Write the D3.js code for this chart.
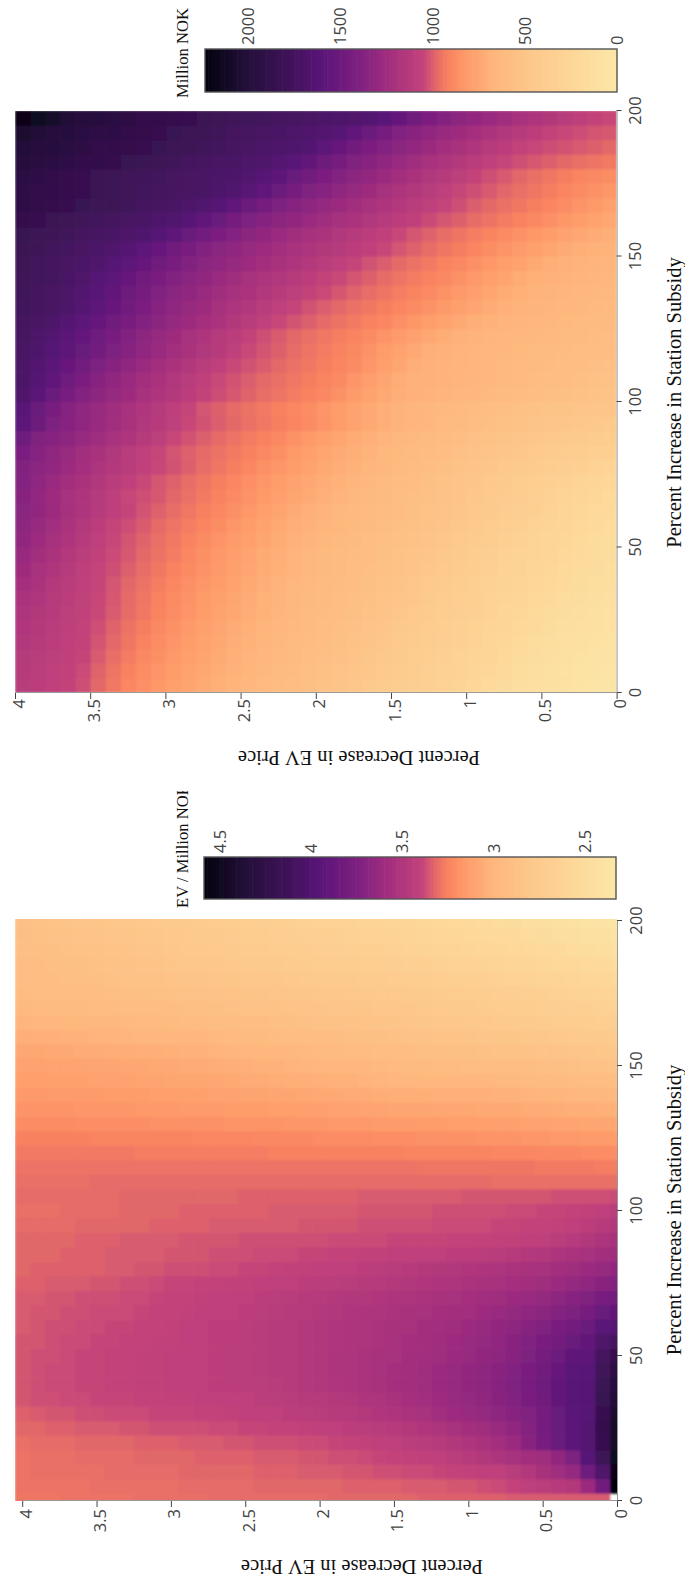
<!DOCTYPE html>
<html>
<head>
<meta charset="utf-8">
<script src="https://cdnjs.cloudflare.com/ajax/libs/d3/7.8.5/d3.min.js"></script>
<style>
  body { margin: 0; background: #fff; }
  svg { display: block; }
</style>
</head>
<body>
<svg id="chart"></svg>
<script>
// Set dimensions (the whole figure is laid out sideways, then turned a quarter)
const width = 685;
const height = 1581;

const subsidyTicks = [0, 50, 100, 150, 200];
const priceTicks = [0, 0.5, 1, 1.5, 2, 2.5, 3, 3.5, 4];
const spendTicks = [0, 500, 1000, 1500, 2000];
const ratioTicks = [2.5, 3, 3.5, 4, 4.5];

// Colour ramp
const rampStops = [0, 0.1, 0.2, 0.3, 0.37, 0.41, 0.44, 0.47, 0.55, 0.63, 0.72, 0.8, 0.9, 1];
const rampColors = ["#fbe7a9", "#fdd899", "#fdc98c", "#feb67c", "#fe9a69", "#f98260", "#e46a68",
    "#c4447a", "#a52f7e", "#7d2080", "#591578", "#3f1258", "#23103a", "#04020f"];

// Million NOK, rows go up in station subsidy, columns go up in EV price cut
const spendRows = [
[37,52,67,82,97,112,127,160,200,240,280,314,341,369,396,423,451,478,505,530,555,580,604,628,653,678,703,736,769,802,835,868,900,943,986,1029,1060,1080,1100,1120],
[46,62,78,94,110,125,156,194,232,270,307,333,360,388,415,443,470,497,522,546,570,595,619,644,668,692,722,753,785,816,847,878,912,954,996,1038,1066,1088,1110,1130],
[58,74,90,106,122,145,181,217,253,289,319,347,375,403,431,458,486,512,536,560,584,608,632,656,680,707,738,769,801,832,863,894,933,972,1010,1049,1073,1095,1118,1140],
[68,84,100,116,134,169,204,238,273,310,338,366,394,422,450,479,507,530,554,577,601,625,648,672,695,720,752,784,816,847,879,915,951,987,1022,1058,1080,1104,1130,1155],
[82,97,112,126,155,188,221,254,288,319,348,376,405,433,462,490,514,538,561,584,607,631,654,677,702,733,765,796,828,860,891,927,961,995,1029,1064,1090,1114,1142,1168],
[96,110,124,146,178,210,242,274,308,337,366,395,424,453,481,507,530,553,576,599,622,645,668,692,723,754,785,816,847,878,911,944,977,1010,1043,1066,1095,1125,1155,1183],
[111,123,142,170,199,228,257,286,317,347,378,408,438,468,497,520,542,564,586,608,630,652,675,700,731,762,793,824,855,885,917,949,981,1013,1045,1072,1105,1135,1170,1200],
[122,135,163,191,220,248,277,305,330,361,391,421,451,481,509,531,553,575,597,619,641,663,685,715,746,777,808,838,869,900,930,960,990,1020,1050,1080,1115,1150,1195,1230],
[135,160,186,212,239,265,292,320,350,381,412,443,473,504,526,548,570,592,613,635,657,680,702,733,764,795,825,856,887,917,945,973,1002,1030,1055,1090,1130,1170,1220,1262],
[146,172,198,225,252,279,305,335,366,397,428,459,490,511,532,553,574,596,617,638,660,681,709,740,771,803,834,865,898,934,960,986,1013,1039,1070,1110,1150,1195,1245,1292],
[155,181,207,233,260,290,322,354,385,417,449,481,507,528,549,570,591,612,632,653,674,698,729,760,791,823,854,885,915,942,968,995,1021,1047,1085,1127,1175,1222,1270,1318],
[170,197,224,251,285,316,347,378,409,440,471,503,525,546,567,588,609,630,651,672,693,715,747,779,811,842,874,905,931,956,982,1008,1034,1055,1100,1150,1198,1246,1294,1340],
[188,212,237,262,308,340,369,399,430,460,491,512,533,555,576,597,619,640,662,683,707,738,770,802,834,866,897,923,948,973,998,1023,1051,1090,1130,1185,1225,1270,1315,1355],
[210,235,260,288,325,355,385,415,445,475,505,527,549,570,592,614,636,658,680,705,736,766,797,827,858,888,915,940,965,990,1015,1030,1047,1090,1130,1175,1220,1265,1310,1365],
[235,258,290,323,350,377,404,431,458,485,510,532,555,578,601,624,647,670,693,723,752,781,811,840,870,900,925,949,973,998,1020,1043,1080,1115,1160,1200,1240,1280,1330,1380],
[290,320,345,368,391,414,437,460,483,510,533,556,579,602,625,648,671,694,723,751,780,808,837,866,900,925,950,975,1000,1025,1045,1075,1115,1150,1190,1230,1270,1310,1350,1385],
[340,361,382,403,424,445,466,487,506,528,550,573,595,617,640,662,685,708,736,768,800,831,863,895,920,940,960,981,1001,1022,1048,1082,1123,1164,1205,1245,1286,1327,1368,1420],
[400,415,431,447,462,478,494,510,530,552,573,595,616,638,659,681,705,735,766,798,830,862,893,915,936,958,980,1002,1024,1045,1095,1135,1175,1215,1255,1295,1335,1368,1400,1490],
[450,461,472,483,494,508,528,548,568,588,608,628,648,668,688,712,746,780,814,848,882,905,925,945,965,985,1005,1025,1045,1085,1125,1165,1205,1245,1285,1325,1365,1410,1500,1590],
[490,494,498,502,510,528,546,564,582,600,618,636,654,672,690,712,745,778,811,845,878,900,920,940,960,980,1000,1020,1050,1090,1130,1170,1210,1250,1290,1330,1370,1430,1510,1610],
[510,525,540,555,570,585,600,615,630,645,660,675,690,695,712,748,785,822,860,895,915,935,955,975,995,1015,1035,1065,1105,1145,1180,1220,1260,1300,1340,1380,1430,1510,1600,1680],
[530,545,560,575,590,605,620,635,650,665,675,685,692,698,720,762,804,846,888,910,929,948,967,986,1005,1024,1044,1080,1120,1160,1200,1240,1280,1320,1365,1420,1490,1565,1640,1700],
[552,565,578,590,603,615,628,640,655,668,680,690,695,715,758,800,843,885,905,925,945,965,985,1006,1026,1043,1080,1120,1160,1200,1240,1280,1325,1365,1410,1470,1530,1595,1655,1705],
[572,583,594,605,616,627,638,649,660,671,682,692,705,743,780,817,855,892,912,934,956,978,1000,1022,1043,1085,1125,1165,1205,1245,1285,1325,1370,1415,1470,1525,1580,1635,1685,1725],
[592,602,612,622,632,642,652,662,672,685,697,722,755,788,820,853,885,908,928,948,968,988,1008,1030,1060,1100,1140,1180,1220,1260,1300,1340,1385,1435,1490,1545,1600,1650,1695,1735],
[607,617,628,638,649,660,670,681,692,712,745,776,807,838,869,897,918,938,960,981,1002,1023,1045,1085,1120,1155,1195,1230,1270,1305,1345,1385,1430,1480,1535,1590,1640,1685,1725,1750],
[626,637,648,658,668,679,690,703,735,765,795,825,855,885,905,925,945,965,985,1005,1025,1050,1085,1120,1155,1190,1225,1260,1295,1330,1370,1420,1475,1530,1585,1640,1690,1730,1750,1765],
[636,646,657,668,678,689,705,735,766,797,828,858,889,908,930,952,974,996,1018,1040,1062,1095,1127,1160,1192,1225,1257,1290,1322,1355,1395,1445,1500,1555,1610,1655,1695,1730,1755,1775],
[655,665,675,685,695,705,735,770,800,830,860,890,912,935,957,979,1000,1022,1044,1065,1098,1130,1160,1190,1220,1255,1285,1318,1350,1385,1425,1475,1530,1585,1635,1680,1715,1745,1765,1785],
[670,678,687,695,715,745,775,805,835,865,895,915,938,960,983,1005,1027,1055,1085,1115,1145,1175,1205,1235,1265,1295,1325,1355,1390,1430,1480,1535,1590,1635,1675,1705,1730,1750,1770,1795],
[685,695,712,740,768,795,822,850,877,905,928,950,975,998,1020,1045,1075,1100,1130,1155,1183,1210,1240,1268,1297,1325,1355,1390,1430,1480,1535,1590,1640,1675,1700,1725,1745,1770,1795,1830],
[708,730,757,782,808,833,860,885,908,930,952,975,998,1020,1045,1075,1105,1135,1165,1195,1225,1255,1285,1315,1345,1380,1420,1470,1525,1580,1635,1670,1695,1715,1735,1755,1775,1795,1815,1840],
[755,785,812,840,868,895,915,935,958,978,1000,1020,1040,1075,1105,1135,1165,1195,1225,1255,1285,1315,1345,1375,1410,1460,1515,1570,1625,1665,1690,1710,1730,1750,1770,1790,1810,1830,1850,1875],
[795,825,850,878,905,925,945,965,985,1005,1030,1055,1085,1115,1150,1180,1210,1245,1275,1305,1340,1370,1405,1455,1510,1570,1625,1665,1695,1715,1735,1755,1775,1795,1815,1835,1850,1870,1890,1915],
[837,860,883,907,928,950,970,990,1012,1032,1048,1085,1120,1155,1190,1225,1260,1295,1330,1365,1400,1450,1505,1565,1620,1665,1690,1710,1725,1740,1755,1772,1790,1808,1825,1845,1865,1885,1910,1935],
[875,890,905,927,948,970,990,1012,1032,1057,1095,1130,1165,1200,1240,1275,1310,1345,1380,1420,1470,1525,1580,1630,1665,1685,1700,1712,1725,1740,1760,1775,1790,1810,1830,1850,1870,1895,1920,1955],
[940,955,970,985,1000,1015,1030,1050,1080,1115,1150,1185,1220,1255,1290,1325,1365,1400,1450,1500,1555,1610,1650,1675,1695,1710,1725,1740,1755,1775,1800,1820,1840,1860,1885,1905,1925,1945,1965,1990],
[985,1000,1012,1025,1035,1047,1065,1100,1135,1170,1205,1240,1275,1310,1345,1380,1420,1475,1530,1590,1655,1672,1690,1707,1725,1742,1760,1777,1795,1815,1835,1855,1875,1890,1910,1930,1950,1970,1990,2010],
[1015,1022,1035,1045,1065,1098,1130,1162,1195,1228,1260,1293,1325,1360,1395,1450,1510,1570,1630,1660,1677,1692,1710,1725,1740,1757,1775,1795,1815,1835,1855,1875,1895,1915,1930,1950,1970,1990,2030,2080],
[1045,1060,1090,1120,1155,1185,1215,1250,1280,1312,1345,1378,1420,1480,1545,1610,1660,1675,1690,1705,1720,1735,1750,1765,1780,1792,1810,1830,1850,1870,1890,1910,1930,1950,1970,1990,2030,2090,2150,2215]
];

// EV / Million NOK, same layout, one cell more each way; no value at the 0/0 corner
const ratioRows = [
[null,3.35,3.35,3.35,3.35,3.35,3.35,3.35,3.34,3.34,3.34,3.34,3.34,3.34,3.33,3.33,3.33,3.33,3.33,3.33,3.32,3.32,3.32,3.32,3.32,3.32,3.32,3.32,3.31,3.31,3.31,3.31,3.31,3.30,3.30,3.30,3.30,3.30,3.29,3.29,3.29],
[4.59,3.82,3.62,3.50,3.47,3.45,3.43,3.40,3.38,3.37,3.36,3.36,3.35,3.35,3.35,3.34,3.34,3.34,3.34,3.33,3.33,3.33,3.33,3.33,3.33,3.32,3.32,3.32,3.32,3.32,3.31,3.31,3.31,3.31,3.31,3.31,3.30,3.30,3.30,3.30,3.30],
[4.55,4.03,3.84,3.65,3.60,3.55,3.50,3.46,3.43,3.42,3.41,3.40,3.39,3.38,3.38,3.37,3.37,3.36,3.36,3.35,3.35,3.35,3.34,3.34,3.34,3.33,3.33,3.33,3.33,3.33,3.32,3.32,3.32,3.32,3.32,3.31,3.31,3.31,3.31,3.31,3.30],
[4.50,4.15,3.98,3.76,3.66,3.60,3.58,3.56,3.53,3.50,3.47,3.45,3.43,3.42,3.41,3.40,3.39,3.38,3.37,3.37,3.36,3.36,3.35,3.35,3.35,3.34,3.34,3.34,3.34,3.33,3.33,3.33,3.33,3.32,3.32,3.32,3.32,3.31,3.31,3.31,3.30],
[4.47,4.20,3.99,3.94,3.86,3.78,3.70,3.62,3.58,3.55,3.52,3.50,3.48,3.46,3.45,3.43,3.42,3.41,3.40,3.39,3.38,3.38,3.37,3.37,3.37,3.36,3.36,3.35,3.35,3.35,3.34,3.34,3.34,3.33,3.33,3.33,3.33,3.32,3.32,3.32,3.31],
[4.45,4.22,3.99,3.94,3.87,3.79,3.72,3.67,3.63,3.60,3.58,3.56,3.53,3.51,3.49,3.47,3.46,3.45,3.44,3.43,3.42,3.41,3.40,3.40,3.39,3.39,3.38,3.38,3.37,3.37,3.37,3.37,3.36,3.36,3.35,3.35,3.35,3.34,3.34,3.33,3.33],
[4.42,4.20,3.98,3.95,3.87,3.79,3.74,3.71,3.68,3.65,3.63,3.61,3.59,3.56,3.54,3.52,3.51,3.49,3.48,3.47,3.46,3.45,3.44,3.43,3.42,3.42,3.41,3.40,3.40,3.39,3.39,3.39,3.38,3.38,3.38,3.37,3.37,3.36,3.36,3.35,3.34],
[4.38,4.19,3.98,3.96,3.90,3.82,3.77,3.73,3.70,3.67,3.65,3.63,3.61,3.59,3.57,3.55,3.53,3.52,3.50,3.49,3.48,3.47,3.46,3.45,3.44,3.43,3.43,3.42,3.42,3.41,3.41,3.40,3.40,3.39,3.39,3.39,3.38,3.38,3.37,3.37,3.36],
[4.33,4.17,3.98,3.96,3.90,3.84,3.78,3.74,3.71,3.68,3.66,3.64,3.62,3.60,3.58,3.57,3.55,3.54,3.52,3.51,3.50,3.49,3.47,3.46,3.45,3.45,3.44,3.44,3.43,3.42,3.42,3.41,3.41,3.40,3.40,3.39,3.39,3.38,3.38,3.37,3.36],
[4.27,4.14,3.96,3.95,3.88,3.82,3.77,3.73,3.70,3.68,3.66,3.64,3.62,3.60,3.58,3.57,3.56,3.54,3.53,3.52,3.50,3.49,3.48,3.47,3.46,3.45,3.45,3.44,3.43,3.43,3.42,3.41,3.41,3.40,3.40,3.39,3.39,3.38,3.38,3.37,3.36],
[4.20,4.10,3.93,3.92,3.85,3.80,3.75,3.71,3.68,3.66,3.64,3.62,3.60,3.59,3.58,3.56,3.55,3.54,3.53,3.52,3.50,3.49,3.48,3.47,3.46,3.45,3.45,3.44,3.43,3.43,3.42,3.41,3.41,3.40,3.40,3.39,3.39,3.38,3.37,3.37,3.36],
[4.10,4.03,3.90,3.86,3.81,3.77,3.73,3.70,3.67,3.65,3.63,3.61,3.60,3.58,3.57,3.56,3.54,3.53,3.52,3.51,3.50,3.49,3.48,3.47,3.46,3.45,3.44,3.44,3.43,3.42,3.41,3.41,3.40,3.40,3.39,3.39,3.38,3.38,3.37,3.36,3.36],
[3.98,3.95,3.86,3.81,3.77,3.74,3.71,3.68,3.66,3.64,3.62,3.60,3.59,3.58,3.56,3.55,3.54,3.53,3.52,3.51,3.50,3.49,3.48,3.47,3.46,3.45,3.44,3.44,3.43,3.42,3.41,3.40,3.40,3.39,3.39,3.38,3.38,3.37,3.37,3.36,3.35],
[3.90,3.87,3.79,3.75,3.72,3.69,3.67,3.65,3.63,3.61,3.59,3.58,3.57,3.56,3.55,3.54,3.53,3.52,3.51,3.50,3.49,3.48,3.47,3.46,3.45,3.44,3.43,3.43,3.42,3.41,3.40,3.40,3.39,3.38,3.38,3.38,3.37,3.37,3.36,3.36,3.35],
[3.80,3.78,3.74,3.71,3.68,3.65,3.63,3.62,3.60,3.59,3.57,3.56,3.55,3.54,3.53,3.52,3.51,3.50,3.50,3.49,3.48,3.47,3.46,3.45,3.44,3.43,3.43,3.42,3.41,3.40,3.40,3.39,3.38,3.38,3.37,3.37,3.37,3.36,3.36,3.35,3.35],
[3.72,3.70,3.67,3.65,3.62,3.60,3.58,3.57,3.56,3.55,3.54,3.53,3.52,3.51,3.50,3.49,3.48,3.47,3.46,3.45,3.45,3.44,3.43,3.43,3.42,3.41,3.41,3.40,3.40,3.39,3.39,3.38,3.37,3.37,3.36,3.36,3.35,3.35,3.35,3.34,3.34],
[3.66,3.64,3.62,3.60,3.58,3.56,3.55,3.54,3.53,3.52,3.51,3.50,3.50,3.49,3.47,3.46,3.45,3.44,3.43,3.42,3.42,3.41,3.41,3.40,3.39,3.39,3.38,3.38,3.37,3.37,3.37,3.36,3.36,3.35,3.35,3.34,3.34,3.34,3.34,3.34,3.33],
[3.60,3.58,3.56,3.54,3.52,3.50,3.49,3.47,3.46,3.45,3.44,3.44,3.43,3.43,3.42,3.42,3.41,3.41,3.40,3.40,3.39,3.39,3.38,3.38,3.38,3.37,3.37,3.37,3.36,3.36,3.36,3.35,3.35,3.35,3.35,3.34,3.34,3.34,3.33,3.33,3.33],
[3.55,3.53,3.50,3.47,3.45,3.43,3.42,3.41,3.41,3.40,3.40,3.40,3.39,3.39,3.39,3.39,3.38,3.38,3.38,3.38,3.37,3.37,3.37,3.37,3.37,3.37,3.36,3.36,3.36,3.36,3.35,3.35,3.35,3.35,3.34,3.34,3.34,3.33,3.33,3.33,3.33],
[3.50,3.47,3.44,3.42,3.41,3.40,3.40,3.39,3.39,3.38,3.38,3.38,3.38,3.37,3.37,3.37,3.37,3.37,3.36,3.36,3.36,3.36,3.35,3.35,3.35,3.35,3.35,3.35,3.34,3.34,3.34,3.34,3.33,3.33,3.33,3.33,3.33,3.32,3.32,3.32,3.32],
[3.45,3.42,3.41,3.40,3.39,3.39,3.38,3.38,3.37,3.37,3.37,3.37,3.37,3.36,3.36,3.36,3.36,3.36,3.35,3.35,3.35,3.35,3.35,3.35,3.34,3.34,3.34,3.34,3.34,3.34,3.33,3.33,3.33,3.33,3.32,3.32,3.32,3.32,3.31,3.31,3.31],
[3.38,3.37,3.37,3.37,3.37,3.36,3.36,3.36,3.36,3.36,3.36,3.35,3.35,3.35,3.35,3.35,3.35,3.35,3.34,3.34,3.34,3.34,3.34,3.34,3.34,3.34,3.33,3.33,3.33,3.33,3.33,3.33,3.33,3.33,3.32,3.32,3.32,3.32,3.32,3.32,3.32],
[3.31,3.31,3.31,3.31,3.31,3.31,3.31,3.31,3.31,3.32,3.32,3.32,3.32,3.32,3.32,3.32,3.32,3.32,3.32,3.32,3.32,3.32,3.32,3.32,3.32,3.32,3.32,3.32,3.32,3.32,3.32,3.32,3.32,3.32,3.32,3.32,3.31,3.31,3.31,3.31,3.31],
[3.27,3.27,3.28,3.28,3.28,3.28,3.29,3.29,3.29,3.29,3.29,3.29,3.29,3.29,3.30,3.30,3.30,3.30,3.30,3.30,3.30,3.30,3.30,3.30,3.30,3.30,3.30,3.30,3.30,3.30,3.30,3.30,3.30,3.30,3.30,3.30,3.30,3.30,3.30,3.30,3.30],
[3.21,3.22,3.22,3.23,3.23,3.23,3.24,3.24,3.24,3.25,3.25,3.25,3.25,3.25,3.25,3.26,3.26,3.26,3.26,3.26,3.26,3.26,3.26,3.26,3.27,3.27,3.27,3.27,3.27,3.27,3.27,3.27,3.27,3.28,3.28,3.28,3.28,3.28,3.28,3.28,3.28],
[3.15,3.16,3.16,3.17,3.17,3.18,3.18,3.19,3.19,3.19,3.20,3.20,3.20,3.20,3.21,3.21,3.21,3.22,3.22,3.22,3.22,3.23,3.23,3.23,3.23,3.24,3.24,3.24,3.24,3.25,3.25,3.25,3.25,3.25,3.25,3.25,3.26,3.26,3.26,3.26,3.26],
[3.09,3.10,3.10,3.11,3.11,3.12,3.12,3.13,3.13,3.14,3.14,3.14,3.15,3.15,3.16,3.16,3.16,3.17,3.17,3.17,3.18,3.18,3.18,3.19,3.19,3.19,3.19,3.20,3.20,3.20,3.20,3.20,3.21,3.21,3.21,3.21,3.21,3.22,3.22,3.22,3.22],
[3.03,3.04,3.05,3.05,3.06,3.07,3.07,3.08,3.08,3.08,3.09,3.09,3.09,3.10,3.10,3.10,3.11,3.11,3.12,3.12,3.13,3.13,3.14,3.14,3.15,3.15,3.15,3.16,3.16,3.16,3.17,3.17,3.17,3.18,3.18,3.18,3.18,3.19,3.19,3.19,3.19],
[2.97,2.98,2.99,3.00,3.01,3.01,3.02,3.03,3.03,3.04,3.04,3.04,3.04,3.05,3.05,3.05,3.06,3.07,3.07,3.08,3.08,3.09,3.10,3.10,3.11,3.11,3.12,3.12,3.13,3.13,3.14,3.14,3.15,3.15,3.15,3.16,3.16,3.16,3.16,3.17,3.17],
[2.91,2.92,2.93,2.94,2.95,2.95,2.96,2.97,2.97,2.98,2.98,2.98,2.99,2.99,3.00,3.00,3.01,3.02,3.03,3.03,3.04,3.05,3.05,3.06,3.07,3.07,3.08,3.09,3.10,3.10,3.10,3.11,3.11,3.12,3.12,3.12,3.13,3.13,3.13,3.14,3.14],
[2.85,2.86,2.87,2.88,2.89,2.90,2.91,2.92,2.92,2.93,2.93,2.94,2.94,2.95,2.95,2.96,2.97,2.98,2.98,2.99,3.00,3.01,3.02,3.03,3.03,3.04,3.05,3.06,3.07,3.07,3.08,3.08,3.09,3.09,3.10,3.10,3.11,3.11,3.11,3.12,3.12],
[2.80,2.81,2.82,2.83,2.84,2.85,2.86,2.87,2.87,2.88,2.89,2.89,2.90,2.90,2.91,2.92,2.93,2.94,2.94,2.95,2.96,2.97,2.98,2.98,2.99,3.00,3.01,3.02,3.03,3.03,3.04,3.05,3.05,3.06,3.06,3.07,3.07,3.08,3.08,3.09,3.09],
[2.75,2.76,2.77,2.78,2.79,2.80,2.81,2.82,2.82,2.83,2.84,2.85,2.85,2.86,2.87,2.88,2.89,2.89,2.90,2.91,2.92,2.92,2.93,2.94,2.95,2.95,2.96,2.97,2.98,2.98,2.99,3.00,3.00,3.01,3.02,3.02,3.03,3.03,3.04,3.04,3.05],
[2.70,2.71,2.72,2.73,2.74,2.75,2.76,2.77,2.78,2.79,2.79,2.80,2.81,2.82,2.83,2.84,2.84,2.85,2.86,2.87,2.87,2.88,2.89,2.90,2.91,2.91,2.92,2.93,2.94,2.94,2.95,2.96,2.96,2.97,2.98,2.98,2.99,2.99,3.00,3.00,3.01],
[2.65,2.66,2.67,2.68,2.70,2.71,2.72,2.73,2.74,2.75,2.76,2.77,2.78,2.79,2.80,2.80,2.81,2.82,2.82,2.83,2.84,2.85,2.85,2.86,2.87,2.87,2.88,2.89,2.90,2.90,2.91,2.92,2.92,2.93,2.94,2.94,2.95,2.95,2.96,2.96,2.97],
[2.60,2.62,2.63,2.65,2.66,2.67,2.69,2.70,2.71,2.72,2.73,2.74,2.75,2.76,2.77,2.78,2.78,2.79,2.79,2.80,2.81,2.82,2.82,2.83,2.84,2.84,2.85,2.86,2.87,2.87,2.88,2.88,2.89,2.90,2.90,2.91,2.92,2.92,2.93,2.93,2.94],
[2.55,2.57,2.58,2.60,2.61,2.62,2.64,2.65,2.66,2.67,2.68,2.69,2.71,2.72,2.73,2.74,2.75,2.75,2.76,2.77,2.78,2.78,2.79,2.80,2.80,2.81,2.82,2.83,2.84,2.84,2.85,2.86,2.87,2.87,2.88,2.89,2.90,2.90,2.91,2.92,2.93],
[2.50,2.52,2.53,2.55,2.56,2.57,2.59,2.60,2.61,2.63,2.64,2.65,2.66,2.68,2.69,2.70,2.71,2.71,2.72,2.73,2.74,2.75,2.75,2.76,2.77,2.78,2.79,2.80,2.81,2.81,2.82,2.84,2.85,2.86,2.87,2.88,2.89,2.89,2.90,2.91,2.92],
[2.45,2.47,2.48,2.50,2.52,2.53,2.55,2.56,2.57,2.58,2.59,2.61,2.62,2.63,2.65,2.66,2.67,2.68,2.69,2.70,2.71,2.72,2.73,2.74,2.75,2.75,2.76,2.78,2.79,2.79,2.80,2.82,2.83,2.84,2.85,2.86,2.87,2.88,2.89,2.90,2.90],
[2.41,2.43,2.44,2.46,2.47,2.49,2.50,2.52,2.53,2.54,2.56,2.57,2.58,2.60,2.61,2.63,2.64,2.65,2.66,2.67,2.68,2.69,2.70,2.71,2.72,2.73,2.75,2.76,2.77,2.78,2.79,2.80,2.81,2.82,2.83,2.84,2.85,2.86,2.87,2.88,2.89],
[2.37,2.39,2.41,2.42,2.44,2.46,2.47,2.49,2.50,2.51,2.53,2.54,2.56,2.57,2.59,2.60,2.61,2.62,2.63,2.64,2.65,2.66,2.67,2.69,2.70,2.71,2.72,2.74,2.75,2.76,2.77,2.78,2.79,2.80,2.81,2.82,2.83,2.84,2.85,2.87,2.88]
];

const svg = d3.select("#chart")
    .attr("width", width)
    .attr("height", height)
    .attr("viewBox", `0 0 ${width} ${height}`);

// the source image is soft, so the cells get a slight blur
svg.append("defs").append("filter")
    .attr("id", "soft")
    .attr("x", "-2%").attr("y", "-2%").attr("width", "104%").attr("height", "104%")
  .append("feGaussianBlur")
    .attr("stdDeviation", 0.8);

const root = svg.append("g")
    .attr("transform", `translate(0,${height}) rotate(-90)`);

const ramp = d3.scaleLinear().domain(rampStops).range(rampColors).clamp(true);

function drawPanel(o) {
    const g = root.append("g");

    const x = d3.scaleLinear().domain([0, 200]).range(o.xRange);
    const y = d3.scaleLinear().domain([0, 4]).range(o.yRange);
    const t = d3.scaleLinear().domain(o.valueDomain).range([0, 1]);

    g.append("clipPath").attr("id", o.id + "-clip")
      .append("rect")
        .attr("x", o.xRange[0])
        .attr("y", o.clipY)
        .attr("width", o.clipX - o.xRange[0])
        .attr("height", o.yRange[0] - o.clipY);

    // heat cells, a little oversized so no white shows between them
    const cells = o.rows.flatMap((row, j) => row.map((v, i) => ({ j, i, v }))).filter(d => d.v !== null);
    const stepS = 5, stepP = 0.1;
    g.append("g")
        .attr("clip-path", `url(#${o.id}-clip)`)
      .append("g")
        .attr("filter", "url(#soft)")
      .selectAll("rect")
      .data(cells)
      .join("rect")
        .attr("x", d => x(d.j * stepS - o.centered * stepS / 2))
        .attr("width", x(stepS) - x(0) + 0.7)
        .attr("y", d => y((d.i + 1) * stepP - o.centered * stepP / 2))
        .attr("height", y(0) - y(stepP) + 0.7)
        .attr("fill", d => ramp(t(d.v)));

    // axes
    const xAxis = d3.axisBottom(x).tickValues(subsidyTicks).tickSize(5).tickSizeOuter(0).tickPadding(8);
    const yAxis = d3.axisLeft(y).tickValues(priceTicks).tickSize(6).tickSizeOuter(0).tickPadding(o.yPad)
        .tickFormat(d3.format("~g"));
    const gx = g.append("g").attr("transform", `translate(0,${o.yRange[0]})`).call(xAxis);
    const gy = g.append("g").attr("transform", `translate(${o.xRange[0]},0)`).call(yAxis);
    gy.selectAll("text").attr("dy", 9);
    [gx, gy].forEach(a => {
        a.selectAll("text").style("font", "16.5px 'Open Sans'").attr("fill", "#444");
        a.selectAll("line").attr("stroke", "#444");
        a.select(".domain").attr("stroke", "#999");
    });

    g.append("text")
        .attr("x", o.xTitleX).attr("y", 681)
        .attr("text-anchor", "middle")
        .style("font", "20.5px 'Liberation Serif'")
        .attr("fill", "#111")
        .text("Percent Increase in Station Subsidy");

    g.append("text")
        .attr("transform", `translate(${o.yTitleX},${o.yTitleY}) rotate(-90)`)
        .attr("text-anchor", "middle")
        .style("font", "20.5px 'Liberation Serif'")
        .attr("fill", "#111")
        .text("Percent Decrease in EV Price");

    // colour bar
    const bar = d3.scaleLinear().domain(o.valueDomain).range(o.barYRange);
    const barStep = (o.valueDomain[1] - o.valueDomain[0]) / 128;
    const barSteps = d3.range(0, 128).map(k => o.valueDomain[0] + barStep * k);
    g.append("g").selectAll("rect")
      .data(barSteps)
      .join("rect")
        .attr("x", o.barX)
        .attr("width", o.barW)
        .attr("y", d => bar(d + barStep))
        .attr("height", d => bar(d) - bar(d + barStep) + 0.6)
        .attr("fill", d => ramp(t(d + barStep / 2)));
    g.append("rect")
        .attr("x", o.barX).attr("y", o.barYRange[1])
        .attr("width", o.barW).attr("height", o.barYRange[0] - o.barYRange[1])
        .attr("fill", "none").attr("stroke", "#555").attr("stroke-width", 1.4);

    const barAxis = d3.axisRight(bar).tickValues(o.barTicks).tickSize(0).tickPadding(4).tickFormat(d3.format("~g"));
    const gb = g.append("g").attr("transform", `translate(${o.barX + o.barW},0)`).call(barAxis);
    gb.select(".domain").remove();
    gb.selectAll("text").style("font", "16.5px 'Open Sans'").attr("fill", "#444");

    const barTitle = g.append("text")
        .attr("x", o.barTitleX).attr("y", 187.5)
        .style("font", "16.6px 'Liberation Serif'")
        .attr("fill", "#111")
        .text(o.barTitle);
    if (o.barTitleClip) {
        g.append("clipPath").attr("id", o.id + "-title-clip")
          .append("rect").attr("x", o.barTitleX - 2).attr("y", 160)
            .attr("width", o.barTitleClip - o.barTitleX + 2).attr("height", 40);
        barTitle.attr("clip-path", `url(#${o.id}-title-clip)`);
    }
}

drawPanel({
    id: "spend", rows: spendRows, centered: 0,
    xRange: [888, 1470], yRange: [616.6, 15], clipX: 1470, clipY: 15, yPad: 0,
    valueDomain: [0, 2236],
    xTitleX: 1178.5, yTitleX: 830, yTitleY: 359,
    barX: 1489, barW: 43, barYRange: [617, 205], barTicks: spendTicks,
    barTitle: "Million NOK", barTitleX: 1483
});

drawPanel({
    id: "ratio", rows: ratioRows, centered: 1,
    xRange: [80, 660], yRange: [617, 22.2], clipX: 662, clipY: 15, yPad: 2,
    valueDomain: [2.33, 4.59],
    xTitleX: 371, yTitleX: 21, yTitleY: 362,
    barX: 682, barW: 42, barYRange: [616, 204], barTicks: ratioTicks,
    barTitle: "EV / Million NOK", barTitleX: 673, barTitleClip: 790
});
</script>
</body>
</html>
